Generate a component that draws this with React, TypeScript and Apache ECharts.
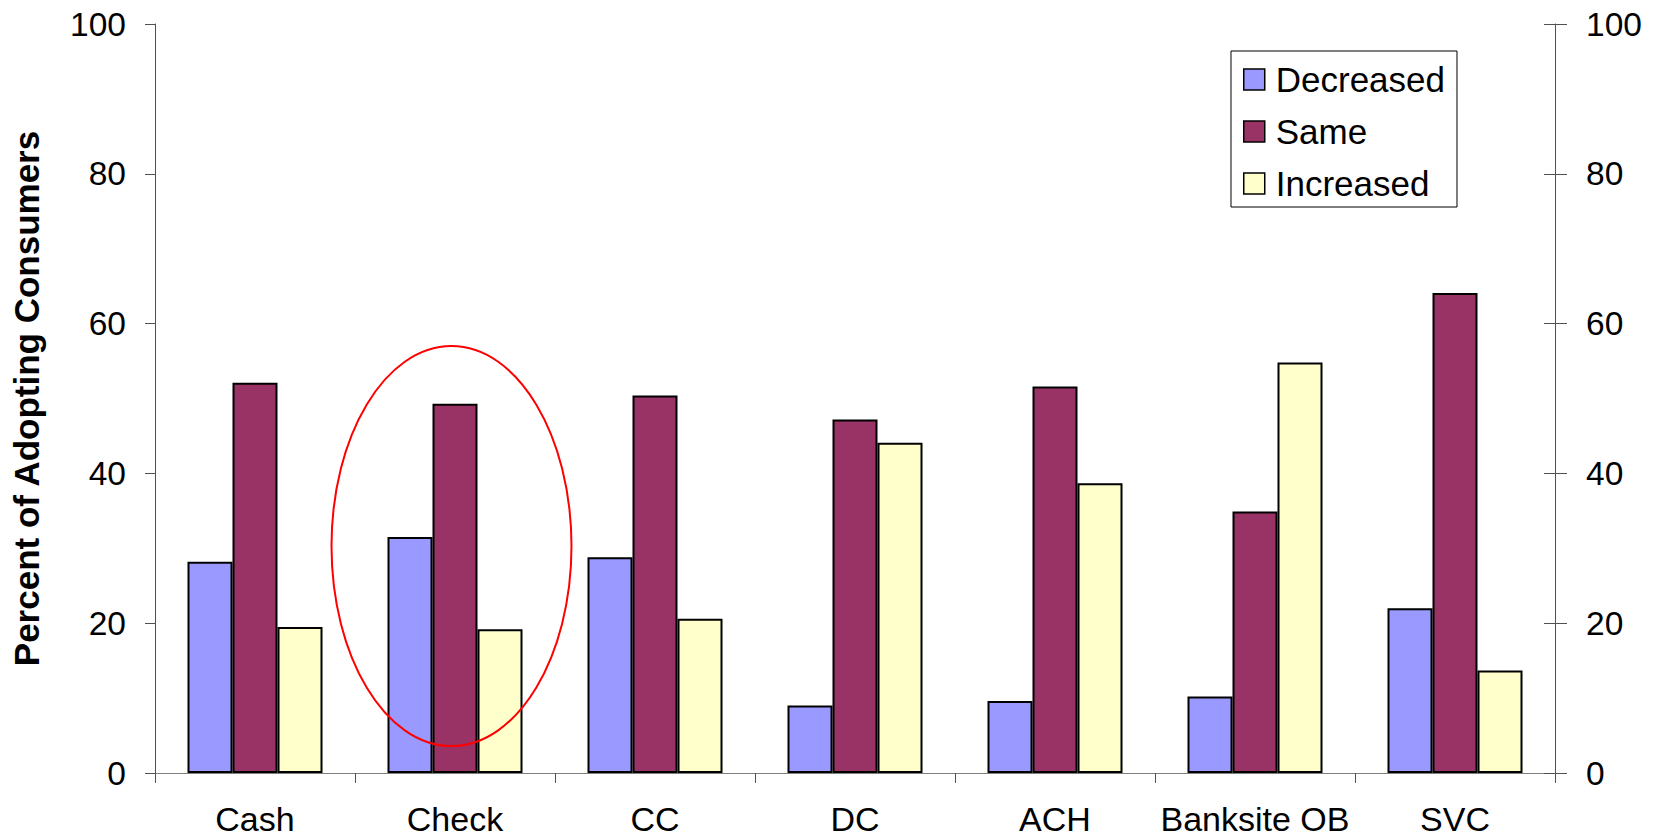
import React, { useEffect, useRef } from "react";
import * as echarts from "echarts";

// Payment instruments on the category axis
const categories = ["Cash", "Check", "CC", "DC", "ACH", "Banksite OB", "SVC"];

// Percent of adopting consumers whose use changed
const decreased = [28.2, 31.5, 28.8, 9.0, 9.6, 10.2, 22.0];
const same = [52.1, 49.3, 50.4, 47.2, 51.6, 34.9, 64.1];
const increased = [19.5, 19.2, 20.6, 44.1, 38.7, 54.8, 13.7];

const seriesNames = ["Decreased", "Same", "Increased"];
const seriesColors = ["#9999FF", "#993366", "#FFFFCC"];

const yTicks = [0, 20, 40, 60, 80, 100];
const yTitle = "Percent of Adopting Consumers";

// Highlight ring around one category group
const highlightCategory = "Check";
const highlightCenterValue = 30.3;
const highlightTopValue = 57;

const FONT = "'Liberation Sans', Arial, Helvetica, sans-serif";
const FS = 33.5;

export default function App() {
  const ref = useRef<HTMLDivElement>(null);

  useEffect(() => {
    if (!ref.current) return;
    const chart = echarts.init(ref.current, null, { renderer: "svg" });
    const lineGray = "#808080";
    const darkLine = "#505050";

    const seriesData = [decreased, same, increased];

    chart.setOption({
      animation: false,
      backgroundColor: "#fff",
      textStyle: { fontFamily: FONT },
      grid: {
        left: 155,
        right: 103,
        top: 24,
        bottom: 65,
        containLabel: false,
        outerBoundsMode: "none",
      },
      legend: {
        orient: "vertical",
        right: 201,
        top: 51,
        data: seriesNames,
        itemWidth: 21,
        itemHeight: 21,
        itemGap: 17,
        padding: [11, 12, 6, 12],
        borderColor: "#000",
        borderWidth: 1,
        backgroundColor: "#fff",
        selectedMode: false,
        icon: "rect",
        itemStyle: { borderColor: "#000", borderWidth: 1.5 },
        textStyle: {
          fontFamily: FONT,
          fontSize: 35,
          color: "#000",
          lineHeight: 35,
          padding: [0, 0, 0, 6],
        },
      },
      xAxis: [
        {
          type: "category",
          data: categories,
          position: "bottom",
          axisLine: { show: true, lineStyle: { color: lineGray, width: 1 } },
          axisTick: { show: true, length: 10, alignWithLabel: false, lineStyle: { color: darkLine } },
          axisLabel: {
            color: "#000",
            fontSize: 34,
            lineHeight: 26,
            fontFamily: FONT,
            margin: 33,
            interval: 0,
          },
          splitLine: { show: false },
        },
        {
          type: "category",
          data: categories,
          position: "top",
          axisLine: { show: true, lineStyle: { color: lineGray, width: 1 } },
          axisTick: { show: false },
          axisLabel: { show: false },
        },
      ],
      yAxis: [
        {
          type: "value",
          min: 0,
          max: 100,
          interval: 20,
          position: "left",
          name: yTitle,
          nameLocation: "middle",
          nameRotate: 90,
          nameGap: 111,
          nameTextStyle: { fontFamily: FONT, fontSize: 35, fontWeight: "bold", color: "#000" },
          axisLine: { show: true, lineStyle: { color: darkLine, width: 1 } },
          axisTick: { show: true, length: 10, lineStyle: { color: darkLine } },
          axisLabel: {
            color: "#000",
            fontSize: FS,
            fontFamily: FONT,
            margin: 29,
            formatter: (v: number) => (yTicks.includes(v) ? String(v) : ""),
          },
          splitLine: { show: false },
        },
        {
          type: "value",
          min: 0,
          max: 100,
          interval: 20,
          position: "right",
          axisLine: { show: true, lineStyle: { color: darkLine, width: 1 } },
          axisTick: { show: true, length: 12, lineStyle: { color: darkLine } },
          axisLabel: { color: "#000", fontSize: FS, fontFamily: FONT, margin: 31 },
          splitLine: { show: false },
        },
        {
          type: "value",
          min: 0,
          max: 100,
          interval: 20,
          position: "right",
          axisLine: { show: false },
          axisTick: { show: true, inside: true, length: 11, lineStyle: { color: darkLine } },
          axisLabel: { show: false },
          splitLine: { show: false },
        },
      ],
      series: seriesNames.map((name, i) => ({
        name,
        type: "bar",
        data: seriesData[i],
        barWidth: 45,
        barGap: "0%",
        itemStyle: { color: seriesColors[i], borderColor: "#000", borderWidth: 2 },
      })),
    });

    // Red ellipse around the highlighted category group
    const center = chart.convertToPixel({ xAxisIndex: 0, yAxisIndex: 0 }, [
      highlightCategory,
      highlightCenterValue,
    ]) as number[];
    const top = chart.convertToPixel({ xAxisIndex: 0, yAxisIndex: 0 }, [
      highlightCategory,
      highlightTopValue,
    ]) as number[];
    const ry = center[1] - top[1];
    chart.setOption({
      graphic: [
        {
          type: "ellipse",
          shape: { cx: center[0] - 3.5, cy: center[1], rx: ry * 0.6, ry },
          style: { fill: "none", stroke: "#FF0000", lineWidth: 2 },
          z: 100,
        },
      ],
    });

    return () => chart.dispose();
  }, []);

  return (
    <div
      ref={ref}
      style={{ position: "absolute", left: 0, top: 0, width: 1658, height: 838 }}
    />
  );
}
